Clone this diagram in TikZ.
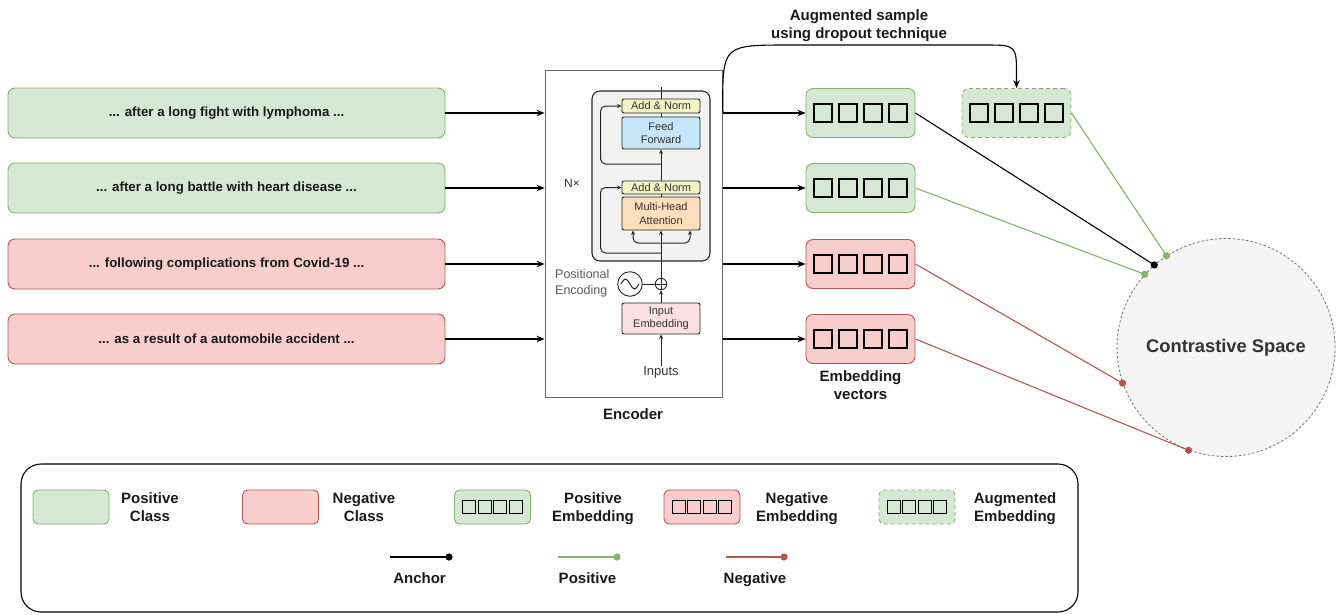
\documentclass[tikz,border=0pt]{standalone}
\usepackage{fontspec}
\setmainfont{Liberation Sans}
\usetikzlibrary{arrows.meta,calc}
\definecolor{gfill}{HTML}{D5E8D4}
\definecolor{gline}{HTML}{82B366}
\definecolor{rfill}{HTML}{F8CECC}
\definecolor{rline}{HTML}{B85450}
\definecolor{anfill}{HTML}{F2F4C4}
\definecolor{fffill}{HTML}{C4E6F6}
\definecolor{mhfill}{HTML}{FCDFBA}
\definecolor{iefill}{HTML}{FBE0E3}
\definecolor{txtdark}{HTML}{1A1A1A}
\newcommand{\embsquares}[3]{%
  \foreach \k in {-1.5,-0.5,0.5,1.5}{%
    \draw[line width=1.3pt] ([shift={({\k*#3-#2/2},{-#2/2})}]#1.center) rectangle ++(#2,#2);}}
\newcommand{\mydot}[2]{\fill[#1] (#2) circle[radius=3.6pt];}
\newcommand{\twol}[2]{\strut #1\\#2\strut}
\begin{document}
\begin{tikzpicture}[x=1pt,y=-1pt,
  every node/.style={inner sep=0pt},
  sent/.style={rounded corners=7pt, minimum width=437pt, minimum height=50pt,
    line width=0.9pt, text=txtdark, font=\fontsize{13.3}{16}\selectfont\bfseries},
  posbox/.style={fill=gfill, draw=gline},
  negbox/.style={fill=rfill, draw=rline},
  emb/.style={rounded corners=7pt, minimum width=109pt, minimum height=49pt, line width=0.9pt},
  lemb/.style={rounded corners=5pt, minimum width=76pt, minimum height=34pt, line width=0.9pt},
  augd/.style={dash pattern=on 4pt off 3pt},
  lbl/.style={font=\fontsize{15}{18}\selectfont\bfseries, align=center, text=txtdark},
  arr/.style={-{Stealth[length=8pt,width=6.5pt]}, line width=1.1pt},
  iarr/.style={-{Stealth[length=4.5pt,width=4pt]}, line width=1pt, draw=black!85},
  iline/.style={line width=1pt, draw=black!85},
  enct/.style={font=\fontsize{11}{13.3}\selectfont, text=black!80, align=center},
  ibox/.style={draw=black!85, rounded corners=2pt, line width=0.9pt, minimum width=78pt, enct},
  conn/.style={line width=1.1pt}
]
\useasboundingbox (0,0) rectangle (1338,614);

% sentences
\node[sent,posbox] (s1) at (226.5,113) {... after a long fight with lymphoma ...};
\node[sent,posbox] (s2) at (226.5,188) {... after a long battle with heart disease ...};
\node[sent,negbox] (s3) at (226.5,264) {... following complications from Covid-19 ...};
\node[sent,negbox] (s4) at (226.5,339) {... as a result of a automobile accident ...};

% encoder
\node[draw=black!60, line width=0.9pt, minimum width=177.7pt, minimum height=327pt] (enc) at (633.85,233.5) {};
\node[lbl] (enclbl) at (633,416) {\strut Encoder};
\node[draw=black!85, fill=black!5, rounded corners=8pt, line width=1.1pt,
  minimum width=118pt, minimum height=170pt] (blk) at (651,176) {};

\node[ibox, fill=anfill, minimum height=14pt] (an1) at (661,106) {Add \& Norm};
\node[ibox, fill=fffill, minimum height=32pt] (ff) at (661,133) {Feed\\Forward};
\node[ibox, fill=anfill, minimum height=13pt] (an2) at (661,187.5) {Add \& Norm};
\node[ibox, fill=mhfill, minimum height=33pt] (mha) at (661,213.5) {Multi-Head\\Attention};
\node[ibox, fill=iefill, minimum height=31pt] (ie) at (661,318.5) {Input\\Embedding};
\node[enct, font=\fontsize{12}{14}\selectfont] (nx) at (572,183) {N×};
\node[enct, font=\fontsize{13}{15}\selectfont] (inp) at (661,372) {Inputs};
\node[enct, anchor=west, align=left, font=\fontsize{12.5}{16}\selectfont, text=black!65] (pelbl) at (555,283) {Positional\\Encoding};
\node[circle, draw=black!85, line width=0.9pt, minimum size=24.6pt] (pe) at (630,284) {};
\node[circle, draw=black!85, line width=0.9pt, minimum size=11.5pt] (pl) at (661,284) {};
\draw[iline] (pl.north) -- (pl.south);
\draw[iline] (pl.west) -- (pl.east);
\draw[iline] (pe.east) -- (pl.west);
\draw[iline] ([xshift=-9pt]pe.center) sin ++(4.5,-5) cos ++(4.5,5) sin ++(4.5,5) cos ++(4.5,-5);

\coordinate (top) at (661,87);
\coordinate (r1) at (661,253);
\coordinate (r2) at (661,164);
\coordinate (b0) at (661,243);
\draw[iarr] (inp.north) -- (ie.south);
\draw[iarr] (ie.north) -- (pl.south);
\draw[iarr] (pl.north) -- (mha.south);
\draw[iline] (mha.north) -- (an2.south);
\draw[iarr] (an2.north) -- (ff.south);
\draw[iline] (ff.north) -- (an1.south);
\draw[iline] (an1.north) -- (top);
\draw[iarr, rounded corners=5pt] (r1) -| ([xshift=-21pt]an2.west) -- (an2.west);
\draw[iarr, rounded corners=5pt] (r2) -| ([xshift=-21pt]an1.west) -- (an1.west);
\draw[iarr, rounded corners=5pt] (b0) -| ([xshift=-28pt]mha.south);
\draw[iarr, rounded corners=5pt] (b0) -| ([xshift=29pt]mha.south);

% embeddings
\node[emb,posbox] (e1) at (860.5,113) {};
\node[emb,posbox] (e2) at (860.5,188) {};
\node[emb,negbox] (e3) at (860.5,264) {};
\node[emb,negbox] (e4) at (860.5,339) {};
\node[emb,posbox,augd] (aug) at (1016.5,113) {};
\embsquares{e1}{18}{25}
\embsquares{e2}{18}{25}
\embsquares{e3}{18}{25}
\embsquares{e4}{18}{25}
\embsquares{aug}{18}{25}
\node[lbl] (evlbl) at (860.5,387) {\twol{Embedding}{vectors}};
\node[lbl] (auglbl) at (859,25.5) {\twol{Augmented sample}{using dropout technique}};

% arrows sentence -> encoder -> embeddings
\foreach \i in {1,2,3,4}{
  \draw[arr] (s\i.east) -- (s\i.east -| enc.west);
  \draw[arr] (e\i.west -| enc.east) -- (e\i.west);
}
\draw[arr] (enc.east |- e1.west) -- (722.7,108) .. controls (722.7,45) .. (790,45)
  -- (984,45) .. controls (1016.5,45) .. (1016.5,76) -- (aug.north);

% contrastive space
\node[circle, minimum size=218pt, fill=black!4, draw=black!55, dash pattern=on 2.5pt off 2pt,
  line width=0.8pt, font=\fontsize{18.3}{22}\selectfont\bfseries, text=black!80] (cs) at (1226,347.5) {Contrastive Space};
\draw[conn, black] (e1.east) -- (cs.131.9);
\draw[conn, gline] (aug.east) -- (cs.123.4);
\draw[conn, gline] (e2.east) -- (cs.138.9);
\draw[conn, rline] (e3.east) -- (cs.199);
\draw[conn, rline] (e4.east) -- (cs.250.5);
\mydot{black}{cs.131.9}
\mydot{gline}{cs.123.4}
\mydot{gline}{cs.138.9}
\mydot{rline}{cs.199}
\mydot{rline}{cs.250.5}

% legend
\node[draw, rounded corners=20pt, line width=1.1pt, minimum width=1057pt, minimum height=148pt] (legend) at (549.5,538) {};
\node[lemb,posbox] (lpc) at (71,507) {};
\node[lbl] (lpct) at (150,509) {\twol{Positive}{Class}};
\node[lemb,negbox] (lnc) at (280.5,507) {};
\node[lbl] (lnct) at (364,509) {\twol{Negative}{Class}};
\node[lemb,posbox] (lpe) at (492.5,507) {};
\node[lbl] (lpet) at (593,509) {\twol{Positive}{Embedding}};
\node[lemb,negbox] (lne) at (702,507) {};
\node[lbl] (lnet) at (797,509) {\twol{Negative}{Embedding}};
\node[lemb,posbox,augd] (lae) at (917,507) {};
\node[lbl] (laet) at (1015,509) {\twol{Augmented}{Embedding}};
\embsquares{lpe}{13}{15.5}
\embsquares{lne}{13}{15.5}
\embsquares{lae}{13}{15.5}

\coordinate (la1) at (390,557); \coordinate (la2) at (449,557);
\coordinate (lp1) at (558,557); \coordinate (lp2) at (617,557);
\coordinate (ln1) at (726,557); \coordinate (ln2) at (784,557);
\draw[conn, black] (la1) -- (la2); \mydot{black}{la2}
\draw[conn, gline] (lp1) -- (lp2); \mydot{gline}{lp2}
\draw[conn, rline] (ln1) -- (ln2); \mydot{rline}{ln2}
\node[lbl] (lat) at (419.5,580) {\strut Anchor};
\node[lbl] (lpt) at (587.5,580) {\strut Positive};
\node[lbl] (lnt) at (755,580) {\strut Negative};
\end{tikzpicture}
\end{document}
